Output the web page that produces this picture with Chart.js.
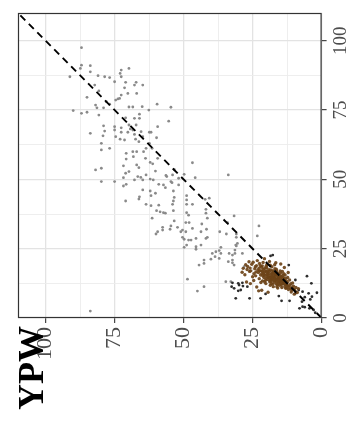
<!DOCTYPE html>
<html>
<head>
<meta charset="utf-8">
<script src="https://cdn.jsdelivr.net/npm/chart.js@4.4.1/dist/chart.umd.min.js"></script>
<style>
  html, body { margin: 0; padding: 0; background: #fff; }
  #wrap { width: 352px; height: 444px; }
</style>
</head>
<body>
<div id="wrap"><canvas id="scatter" width="352" height="444"></canvas></div>
<script>
// values: [x (bottom axis), y (right axis)]
var grayPoints = [
  [87.0,97.5],[87.0,91.2],[87.4,90.0],[83.8,91.0],[83.8,88.8],[91.2,87.0],[81.0,87.4],[78.6,87.0],[76.8,86.7],[72.6,89.4],
  [73.0,88.2],[72.6,87.0],[69.8,90.0],[75.0,85.2],[71.0,85.0],[67.2,85.0],[67.8,84.0],[64.8,84.0],[71.4,83.0],[82.2,84.0],
  [80.7,81.9],[85.0,79.6],[70.2,81.0],[67.0,81.0],[74.6,78.6],[73.8,79.0],[73.2,79.2],[72.6,80.4],[78.0,78.0],[76.8,77.1],
  [81.9,76.8],[81.4,75.8],[79.0,75.8],[69.8,76.1],[68.4,76.1],[65.0,76.2],[62.6,75.0],[59.6,77.1],[90.0,74.8],[87.0,73.8],
  [85.0,74.2],[80.7,73.2],[67.8,72.0],[66.0,73.5],[71.0,72.2],[55.4,71.0],[79.0,69.3],[78.6,67.4],[83.8,66.6],[79.2,65.7],
  [75.0,69.0],[75.0,67.8],[74.6,65.4],[72.6,68.6],[72.6,67.0],[73.0,64.5],[69.8,69.6],[69.3,68.2],[68.4,67.8],[67.2,69.6],
  [66.0,72.0],[70.2,67.0],[67.8,66.2],[65.4,67.2],[62.4,67.0],[61.8,67.0],[59.4,69.0],[71.4,64.2],[67.4,64.5],[66.2,63.6],
  [62.4,63.0],[59.8,65.0],[61.4,61.2],[63.6,61.2],[79.8,63.0],[76.8,61.2],[79.8,60.6],[68.4,60.0],[67.0,60.0],[64.5,60.0],
  [70.8,59.4],[68.2,58.2],[70.8,57.3],[63.8,57.6],[62.1,56.1],[61.2,55.6],[59.4,57.6],[71.8,54.9],[67.0,55.2],[66.2,54.2],
  [60.2,53.0],[71.0,52.2],[69.8,52.8],[81.9,53.4],[79.8,54.0],[71.8,50.6],[66.6,51.0],[65.5,50.7],[63.6,51.6],[62.1,50.1],
  [61.0,49.8],[67.8,49.8],[64.8,49.8],[56.1,51.0],[54.0,51.6],[51.8,50.4],[49.8,51.8],[45.8,50.6],[79.8,49.2],[75.0,49.2],
  [71.8,47.6],[70.8,48.2],[59.0,48.2],[57.3,48.0],[56.6,47.0],[54.6,49.2],[51.8,48.0],[64.8,46.2],[62.1,45.8],[60.2,45.0],
  [53.7,45.8],[61.8,44.1],[66.0,43.7],[66.2,42.9],[71.0,42.2],[63.6,41.0],[61.8,40.5],[59.0,40.7],[53.7,42.2],[54.0,41.0],
  [48.9,42.6],[48.9,41.0],[46.8,41.0],[48.9,44.1],[53.4,53.6],[46.8,56.0],[33.8,51.6],[56.4,51.4],[54.2,48.8],[53.4,43.5],
  [42.2,42.8],[40.7,43.2],[59.8,38.7],[58.5,38.3],[57.3,38.0],[56.6,37.8],[53.7,38.7],[48.9,38.0],[48.2,37.1],[41.9,39.2],
  [41.9,37.8],[61.4,36.0],[53.4,35.0],[49.2,34.4],[41.4,36.0],[43.4,33.9],[31.7,36.8],[57.6,32.7],[57.6,31.7],[54.6,33.2],
  [54.9,32.0],[52.2,32.7],[51.0,31.1],[49.2,31.1],[46.8,32.3],[43.7,31.1],[41.7,32.0],[36.9,31.1],[34.1,34.4],[59.4,31.1],
  [60.0,30.3],[50.4,29.1],[49.8,28.4],[48.2,28.1],[47.3,28.1],[45.5,28.7],[41.4,29.1],[30.9,29.1],[30.9,30.3],[34.5,30.3],
  [23.3,29.6],[48.9,26.3],[45.5,25.7],[45.5,24.8],[43.7,26.3],[36.5,25.5],[30.9,26.0],[48.0,34.4],[50.4,31.7],[49.8,25.5],
  [41.9,28.7],[39.6,23.3],[38.3,23.9],[37.1,24.3],[36.5,23.3],[38.6,22.1],[37.1,21.5],[40.1,21.2],[33.5,23.3],[32.3,22.7],
  [31.4,23.3],[30.5,26.9],[42.6,20.9],[42.6,19.7],[44.4,19.1],[33.8,20.3],[32.3,19.9],[28.7,23.3],[28.1,18.5],[22.7,33.2],
  [48.6,14.0],[45.0,9.7],[42.6,11.3],[34.7,13.1],[32.9,13.1],[83.8,2.5],[32.3,20.9],[31.7,19.1],[31.1,26.3],[31.4,24.5],
  [54.6,76.0],[64.8,65.4]
];

var darkPoints = [
  [31.1,7.1],[26.1,7.1],[18.5,22.4],[17.7,22.7],[11.9,19.1],[5.3,15.1],[3.7,12.5],[1.7,9.1],[4.7,8.9],[6.1,7.5],
  [4.1,6.7],[8.0,3.5],[6.9,4.1],[14.5,6.2],[11.6,6.2],[9.5,8.9],[10.1,10.3],[20.3,8.7],[32.6,11.3],[28.7,12.7],
  [28.5,11.5],[29.3,10.1],[26.9,11.3],[30.2,12.5],[32.3,12.7],[22.1,7.1],[15.5,7.9],[6.1,3.9],[4.4,3.5],[2.3,1.9],
  [8.3,10.1],[6.9,9.5],[9.5,13.7],[29.9,11.9],[31.7,10.7],[30.2,9.8],[3.5,7.7],[7.1,5.9],[2.9,2.9]
];

var brownPoints = [
  [17.2,14.6],[16.1,15.3],[18.4,14.1],[15.3,13.2],[19.6,15.8],[14.2,12.4],[20.5,16.9],[16.8,13.5],[17.9,15.9],[13.5,13.8],
  [18.8,13.1],[15.7,14.4],[21.3,15.2],[12.6,11.9],[19.1,17.4],[16.4,12.3],[22.4,17.1],[14.8,15.1],[17.6,16.7],[20.1,14.3],
  [13.1,12.8],[18.2,12.4],[15.9,16.2],[21.8,18.3],[11.8,11.2],[16.9,14.9],[19.4,16.3],[14.5,13.6],[17.4,13.8],[20.8,15.7],
  [15.2,11.8],[18.7,15.4],[13.8,14.5],[22.9,16.4],[16.3,14.0],[19.9,18.1],[12.4,12.9],[17.1,12.9],[21.1,17.6],[14.9,14.1],
  [18.1,16.1],[15.6,12.7],[20.3,13.6],[13.3,11.4],[16.6,15.8],[19.2,14.8],[23.6,18.9],[11.2,10.6],[17.8,14.3],[14.1,13.0],
  [18.9,16.8],[15.4,15.6],[21.6,16.0],[12.9,12.1],[16.2,13.1],[20.6,17.9],[14.6,12.0],[17.5,15.1],[19.7,15.0],[13.6,13.3],
  [22.1,15.5],[15.8,13.9],[18.5,17.3],[16.7,16.4],[24.2,17.8],[10.8,10.1],[17.0,13.4],[20.0,16.6],[14.3,14.8],[18.3,14.7],
  [15.1,12.6],[21.5,18.8],[12.2,11.6],[16.5,14.2],[19.5,13.9],[13.9,12.5],[17.7,17.1],[20.9,14.6],[15.5,14.7],[18.6,13.5],
  [14.0,15.4],[22.7,18.0],[16.0,12.0],[19.3,16.0],[12.8,13.4],[17.3,16.0],[21.0,16.3],[15.0,13.5],[18.0,15.0],[13.4,12.2],
  [16.8,15.6],[20.4,15.4],[14.7,13.3],[19.0,14.4],[23.1,17.3],[11.5,11.8],[17.9,13.7],[15.3,14.9],[21.9,17.0],[16.1,13.7],
  [25.3,19.4],[26.8,18.6],[27.5,19.2],[28.4,17.9],[24.8,20.1],[26.1,16.8],[23.9,15.2],[25.7,17.0],[22.5,19.7],[24.5,16.0],
  [27.0,17.5],[28.8,16.5],[9.6,9.8],[8.8,9.2],[10.2,11.5],[9.9,8.6],[11.0,9.4],[8.4,10.6],[12.0,10.3],[10.5,12.6],
  [13.0,10.7],[14.4,11.0],[15.9,10.8],[17.5,11.3],[18.6,11.8],[20.2,12.4],[21.4,13.4],[22.6,14.2],[12.3,14.6],[13.7,16.0],
  [15.0,17.0],[16.4,17.6],[18.0,18.5],[19.8,19.3],[21.2,20.0],[20.7,21.4],[23.3,20.7],[14.2,16.8],[11.6,13.7],[9.3,11.0],
  [26.3,20.3],[24.0,18.5],[13.2,15.5],[10.0,10.4],[22.0,12.8],[17.0,19.2],[18.9,20.4],[16.6,19.9],[25.0,14.9],[27.8,15.6],
  [23.5,11.2],[25.8,12.4],[21.7,10.0],[19.4,9.3],[24.6,13.5],[27.2,13.0],[22.8,9.8],[13.5,18.2],[14.8,19.5],[12.1,16.4],
  [16.3,16.9],[18.3,13.2],[14.4,14.0],[19.8,17.0],[15.6,15.0],[17.7,12.2],[21.4,16.8],[13.0,14.3],[20.6,13.0],[16.9,17.8],
  [23.8,16.6],[11.1,12.4],[18.6,19.0],[25.9,18.0],[12.7,10.9],[22.2,18.9],[14.9,16.2],[20.1,18.7],[10.6,11.0],[16.2,11.3]
];

var axisMin = 0;
var axisMax = 110;
var tickLabels = [0, 25, 50, 75, 100];
var identityLine = [[0, 0], [110, 110]];
var yTitle = "YPW";

function toXY(arr) {
  return arr.map(function (p) { return { x: p[0], y: p[1] }; });
}

function isMajor(v) {
  return tickLabels.indexOf(v) !== -1;
}

var tickFont = "'Liberation Serif', 'DejaVu Serif', serif";

var panelPlugin = {
  id: "panel",
  afterDraw: function (chart) {
    var c = chart.ctx;
    var a = chart.chartArea;
    var ys = chart.scales.y;
    c.save();
    // panel border
    c.strokeStyle = "#333333";
    c.lineWidth = 1.2;
    c.strokeRect(a.left + 0.5, a.top + 0.5, a.right - a.left - 1, a.bottom - a.top - 1);

    // right axis labels, rotated
    c.fillStyle = "#4d4d4d";
    c.font = "19px " + tickFont;
    c.textAlign = "center";
    c.textBaseline = "middle";
    tickLabels.forEach(function (v) {
      var py = ys.getPixelForValue(v);
      c.save();
      c.translate(a.right + 19, py);
      c.rotate(-Math.PI / 2);
      c.fillText(String(v), 0, 0);
      c.restore();
    });

    // title
    c.fillStyle = "#000";
    c.font = "bold 36px " + tickFont;
    c.textAlign = "left";
    c.textBaseline = "alphabetic";
    c.translate(43, 410);
    c.rotate(-Math.PI / 2);
    c.fillText(yTitle, 0, 0);
    c.restore();
  }
};

var gridOpts = {
  color: function (c) { return isMajor(c.tick.value) ? "#e3e3e3" : "#ececec"; },
  lineWidth: function (c) { return isMajor(c.tick.value) ? 1.3 : 0.9; },
  tickColor: function (c) { return isMajor(c.tick.value) ? "#333333" : "rgba(0,0,0,0)"; },
  tickLength: 5,
  tickWidth: 1.1
};

var ctx = document.getElementById("scatter").getContext("2d");
var chart = new Chart(ctx, {
  type: "scatter",
  data: {
    datasets: [
      {
        type: "line",
        data: toXY(identityLine),
        borderColor: "#000",
        borderWidth: 1.9,
        borderDash: [7, 5],
        pointRadius: 0,
        fill: false,
        order: 0
      },
      {
        data: toXY(brownPoints),
        backgroundColor: "rgba(108,67,24,0.92)",
        borderWidth: 0,
        pointRadius: 1.7,
        order: 1
      },
      {
        data: toXY(darkPoints),
        backgroundColor: "#2e2e2e",
        borderWidth: 0,
        pointRadius: 1.4,
        order: 2
      },
      {
        data: toXY(grayPoints),
        backgroundColor: "#8a8a8a",
        borderWidth: 0,
        pointRadius: 1.4,
        order: 3
      }
    ]
  },
  options: {
    responsive: false,
    animation: false,
    layout: { padding: { top: 13, left: 18, right: 0, bottom: 0 } },
    plugins: {
      legend: { display: false },
      tooltip: { enabled: false }
    },
    scales: {
      x: {
        type: "linear",
        reverse: true,
        min: axisMin,
        max: axisMax,
        border: { display: false },
        grid: gridOpts,
        ticks: {
          stepSize: 12.5,
          autoSkip: false,
          minRotation: 90,
          maxRotation: 90,
          padding: 4,
          color: "#4d4d4d",
          font: { family: tickFont, size: 22 },
          callback: function (v) { return isMajor(v) ? String(v) : ""; }
        },
        afterFit: function (s) { s.height = 126; }
      },
      y: {
        type: "linear",
        position: "right",
        min: axisMin,
        max: axisMax,
        border: { display: false },
        grid: gridOpts,
        ticks: {
          stepSize: 12.5,
          autoSkip: false,
          display: false,
          callback: function (v) { return isMajor(v) ? String(v) : ""; }
        },
        afterFit: function (s) { s.width = 29; }
      }
    }
  },
  plugins: [panelPlugin]
});
</script>
</body>
</html>
